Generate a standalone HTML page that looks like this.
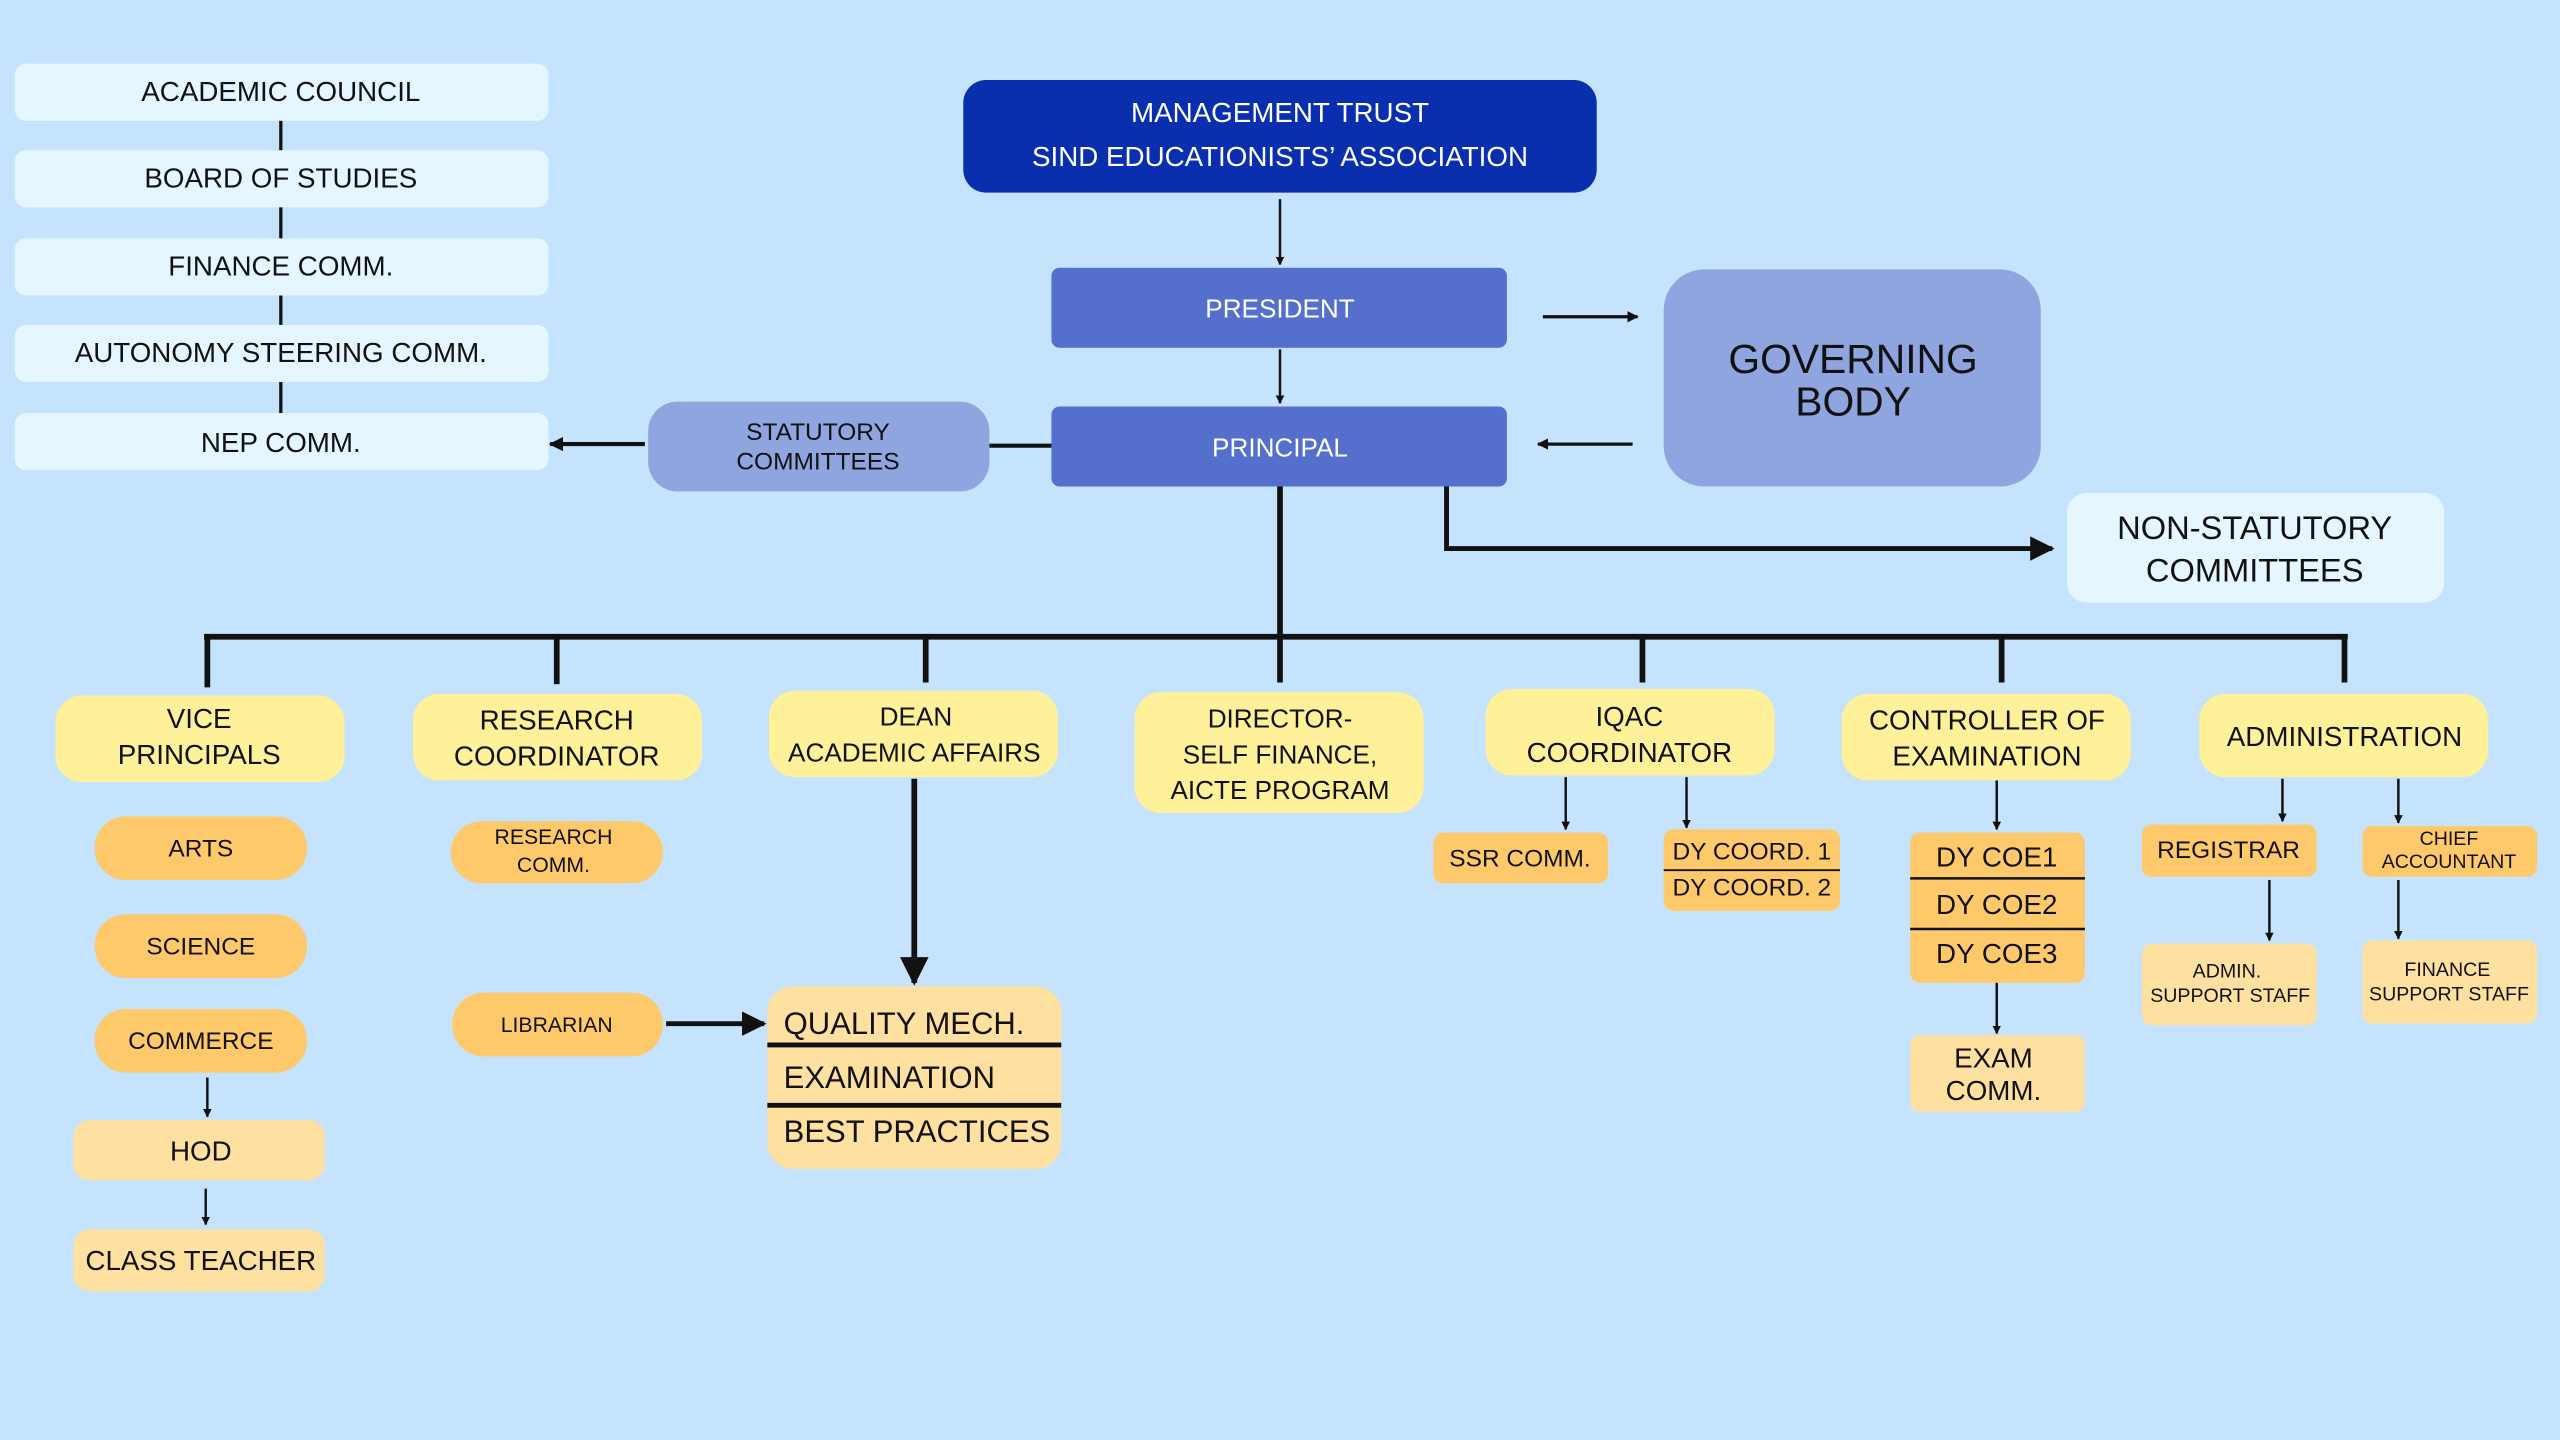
<!DOCTYPE html>
<html><head><meta charset="utf-8"><style>
html,body{margin:0;padding:0;background:#c5e3fd;}
svg{display:block}
text{font-family:"Liberation Sans",sans-serif;fill:#111;text-anchor:middle;dominant-baseline:central}
</style></head><body>
<svg width="2560" height="1440" viewBox="0 0 1568 882" xmlns="http://www.w3.org/2000/svg">
<defs>
<marker id="a" viewBox="0 0 10 10" refX="9" refY="5" markerWidth="5" markerHeight="5" orient="auto"><path d="M0,0 L10,5 L0,10 z" fill="#111"/></marker>
<marker id="b" viewBox="0 0 10 10" refX="9" refY="5" markerWidth="3.5" markerHeight="3.5" orient="auto"><path d="M0,0 L10,5 L0,10 z" fill="#111"/></marker>
</defs>
<rect width="1568" height="882" fill="#c5e3fd"/>
<!-- left stack -->
<g fill="#e5f6ff">
<rect x="9" y="39" width="327" height="35" rx="7"/>
<rect x="9" y="92" width="327" height="35" rx="7"/>
<rect x="9" y="146" width="327" height="35" rx="7"/>
<rect x="9" y="199" width="327" height="35" rx="7"/>
<rect x="9" y="253" width="327" height="35" rx="7"/>
</g>
<g stroke="#111" stroke-width="2"><line x1="172" y1="74" x2="172" y2="92"/><line x1="172" y1="127" x2="172" y2="146"/><line x1="172" y1="181" x2="172" y2="199"/><line x1="172" y1="234" x2="172" y2="253"/></g>
<g font-size="17"><text x="172" y="56">ACADEMIC COUNCIL</text><text x="172" y="109">BOARD OF STUDIES</text><text x="172" y="163">FINANCE COMM.</text><text x="172" y="216">AUTONOMY STEERING COMM.</text><text x="172" y="271">NEP COMM.</text></g>
<!-- top -->
<rect x="590" y="49" width="388" height="69" rx="14" fill="#0a2fae"/>
<text x="784" y="69" font-size="17" style="fill:#fff">MANAGEMENT TRUST</text>
<text x="784" y="96" font-size="17" style="fill:#fff">SIND EDUCATIONISTS’ ASSOCIATION</text>
<rect x="644" y="164" width="279" height="49" rx="5" fill="#5570cc"/>
<text x="784" y="189" font-size="16" style="fill:#fff">PRESIDENT</text>
<rect x="644" y="249" width="279" height="49" rx="5" fill="#5570cc"/>
<text x="784" y="274" font-size="16" style="fill:#fff">PRINCIPAL</text>
<rect x="1019" y="165" width="231" height="133" rx="25" fill="#8fa5e0"/>
<text x="1135" y="220" font-size="25">GOVERNING</text><text x="1135" y="246" font-size="25">BODY</text>
<rect x="397" y="246" width="209" height="55" rx="18" fill="#8fa5e0"/>
<text x="501" y="265" font-size="15">STATUTORY</text><text x="501" y="283" font-size="15">COMMITTEES</text>
<rect x="1266" y="302" width="231" height="67" rx="12" fill="#e5f6ff"/>
<text x="1381" y="323" font-size="20">NON-STATUTORY</text><text x="1381" y="349" font-size="20">COMMITTEES</text>
<g stroke="#111" fill="none">
<line x1="784" y1="122" x2="784" y2="162" stroke-width="1.5" marker-end="url(#b)"/>
<line x1="784" y1="214" x2="784" y2="247" stroke-width="1.5" marker-end="url(#b)"/>
<line x1="945" y1="194" x2="1003" y2="194" stroke-width="2" marker-end="url(#b)"/>
<line x1="1000" y1="272" x2="942" y2="272" stroke-width="2" marker-end="url(#b)"/>
<line x1="606" y1="273" x2="644" y2="273" stroke-width="2.5"/>
<line x1="395" y1="272" x2="337" y2="272" stroke-width="2.5" marker-end="url(#b)"/>
<polyline points="886,298 886,336 1257,336" stroke-width="3" marker-end="url(#a)"/>
<line x1="784" y1="298" x2="784" y2="418" stroke-width="3.5"/>
<line x1="125" y1="390" x2="1438" y2="390" stroke-width="3.5"/>
<line x1="127" y1="390" x2="127" y2="421" stroke-width="3.5"/>
<line x1="341" y1="390" x2="341" y2="419" stroke-width="3.5"/>
<line x1="567" y1="390" x2="567" y2="418" stroke-width="3.5"/>
<line x1="1006" y1="390" x2="1006" y2="418" stroke-width="3.5"/>
<line x1="1226" y1="390" x2="1226" y2="418" stroke-width="3.5"/>
<line x1="1436" y1="390" x2="1436" y2="418" stroke-width="3.5"/>
</g>
<!-- yellow tier -->
<g fill="#fff09a">
<rect x="34" y="426" width="177" height="53" rx="16"/>
<rect x="253" y="425" width="177" height="53" rx="16"/>
<rect x="471" y="423" width="177" height="53" rx="16"/>
<rect x="695" y="424" width="177" height="74" rx="16"/>
<rect x="910" y="422" width="177" height="53" rx="16"/>
<rect x="1128" y="425" width="177" height="53" rx="16"/>
<rect x="1347" y="425" width="177" height="51" rx="16"/>
</g>
<g font-size="17">
<text x="122" y="440">VICE</text><text x="122" y="462">PRINCIPALS</text>
<text x="341" y="441">RESEARCH</text><text x="341" y="463">COORDINATOR</text>
<text x="561" y="439" font-size="16">DEAN</text><text x="560" y="461" font-size="16">ACADEMIC AFFAIRS</text>
<text x="784" y="440" font-size="16">DIRECTOR-</text><text x="784" y="462" font-size="16">SELF FINANCE,</text><text x="784" y="484" font-size="16">AICTE PROGRAM</text>
<text x="998" y="439">IQAC</text><text x="998" y="461">COORDINATOR</text>
<text x="1217" y="441">CONTROLLER OF</text><text x="1217" y="463">EXAMINATION</text>
<text x="1436" y="451">ADMINISTRATION</text>
</g>
<!-- vice children -->
<g fill="#fdc96b">
<rect x="58" y="500" width="130" height="39" rx="19"/>
<rect x="58" y="560" width="130" height="39" rx="19"/>
<rect x="58" y="618" width="130" height="39" rx="19"/>
<rect x="276" y="503" width="130" height="38" rx="19"/>
<rect x="277" y="608" width="129" height="39" rx="19"/>
<rect x="878" y="510" width="107" height="31" rx="6"/>
<rect x="1019" y="508" width="108" height="50" rx="6"/>
<rect x="1170" y="510" width="107" height="92" rx="6"/>
<rect x="1312" y="505" width="107" height="32" rx="6"/>
<rect x="1447" y="506" width="107" height="31" rx="6"/>
</g>
<g fill="#fee0a0">
<rect x="45" y="686" width="154" height="37" rx="10"/>
<rect x="45" y="753" width="154" height="38" rx="10"/>
<rect x="470" y="604" width="180" height="112" rx="16"/>
<rect x="1170" y="634" width="107" height="47" rx="6"/>
<rect x="1312" y="578" width="107" height="50" rx="6"/>
<rect x="1447" y="576" width="107" height="51" rx="6"/>
</g>
<g font-size="15">
<text x="123" y="520">ARTS</text><text x="123" y="580">SCIENCE</text><text x="123" y="638">COMMERCE</text>
<text x="123" y="705" font-size="17">HOD</text><text x="123" y="772" font-size="17">CLASS TEACHER</text>
<text x="339" y="513" font-size="13">RESEARCH</text><text x="339" y="530" font-size="13">COMM.</text>
<text x="341" y="628" font-size="13">LIBRARIAN</text>
<text x="931" y="526">SSR COMM.</text>
<text x="1073" y="522">DY COORD. 1</text><text x="1073" y="544">DY COORD. 2</text>
<text x="1223" y="525" font-size="17">DY COE1</text><text x="1223" y="554" font-size="17">DY COE2</text><text x="1223" y="584" font-size="17">DY COE3</text>
<text x="1221" y="648" font-size="17">EXAM</text><text x="1221" y="668" font-size="17">COMM.</text>
<text x="1365" y="521">REGISTRAR</text>
<text x="1500" y="514" font-size="12">CHIEF</text><text x="1500" y="528" font-size="12">ACCOUNTANT</text>
<text x="1364" y="595" font-size="12">ADMIN.</text><text x="1366" y="610" font-size="12">SUPPORT STAFF</text>
<text x="1499" y="594" font-size="12">FINANCE</text><text x="1500" y="609" font-size="12">SUPPORT STAFF</text>
</g>
<g font-size="19" style="text-anchor:start">
<text x="480" y="627" style="text-anchor:start">QUALITY MECH.</text>
<text x="480" y="660" style="text-anchor:start">EXAMINATION</text>
<text x="480" y="693" style="text-anchor:start">BEST PRACTICES</text>
</g>
<g stroke="#111" fill="none">
<line x1="470" y1="640" x2="650" y2="640" stroke-width="3"/>
<line x1="470" y1="677" x2="650" y2="677" stroke-width="3"/>
<line x1="1019" y1="533" x2="1127" y2="533" stroke-width="1.2"/>
<line x1="1170" y1="538" x2="1277" y2="538" stroke-width="1.5"/>
<line x1="1170" y1="569" x2="1277" y2="569" stroke-width="1.5"/>
<line x1="127" y1="660" x2="127" y2="684" stroke-width="1.5" marker-end="url(#b)"/>
<line x1="126" y1="728" x2="126" y2="750" stroke-width="1.5" marker-end="url(#b)"/>
<line x1="408" y1="627" x2="468" y2="627" stroke-width="3" marker-end="url(#a)"/>
<line x1="560" y1="477" x2="560" y2="602" stroke-width="3.5" marker-end="url(#a)"/>
<line x1="959" y1="476" x2="959" y2="508" stroke-width="1.5" marker-end="url(#b)"/>
<line x1="1033" y1="476" x2="1033" y2="507" stroke-width="1.5" marker-end="url(#b)"/>
<line x1="1223" y1="478" x2="1223" y2="508" stroke-width="1.5" marker-end="url(#b)"/>
<line x1="1223" y1="602" x2="1223" y2="633" stroke-width="1.5" marker-end="url(#b)"/>
<line x1="1398" y1="477" x2="1398" y2="503" stroke-width="1.5" marker-end="url(#b)"/>
<line x1="1469" y1="477" x2="1469" y2="504" stroke-width="1.5" marker-end="url(#b)"/>
<line x1="1390" y1="539" x2="1390" y2="576" stroke-width="1.5" marker-end="url(#b)"/>
<line x1="1469" y1="539" x2="1469" y2="575" stroke-width="1.5" marker-end="url(#b)"/>
</g>
</svg>
</body></html>
